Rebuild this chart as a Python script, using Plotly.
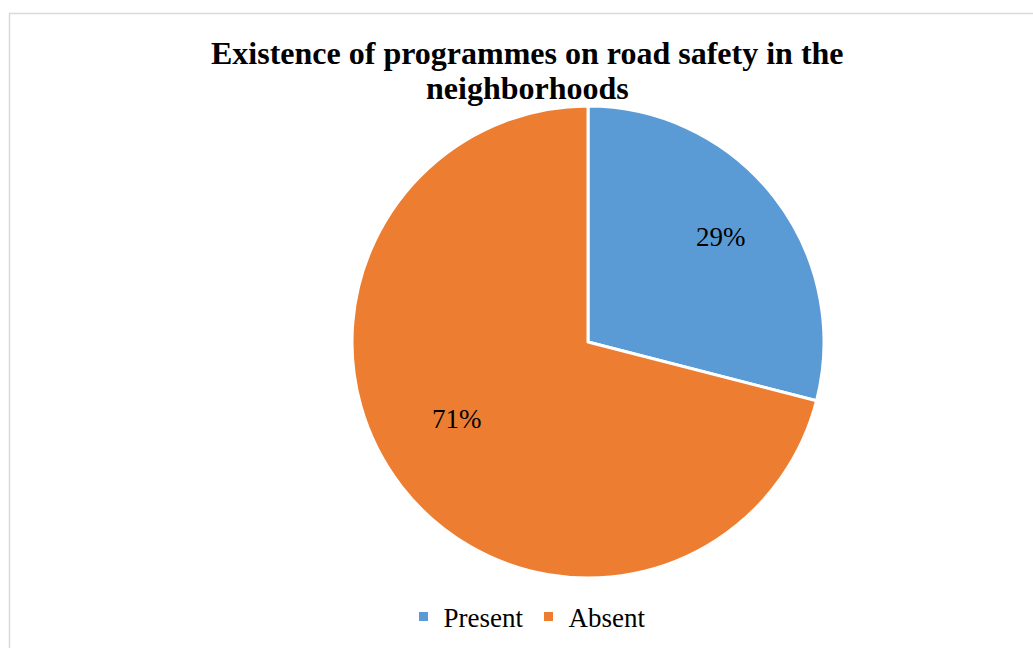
import math
import plotly.graph_objects as go

# Survey responses
categories = ["Present", "Absent"]
shares = [29, 71]
colors = ["#5B9BD5", "#ED7D31"]

W, H = 1033, 648
serif = "Liberation Serif, Times New Roman, serif"

# Pie geometry in pixels
cx, cy, R = 588, 342, 236
label_r = 0.7                       # label distance as a fraction of the radius
label_nudge = [(2, -4), (0, -24)]   # fine pixel offsets per label

fig = go.Figure(
    go.Pie(
        labels=categories,
        values=shares,
        sort=False,
        direction="clockwise",
        rotation=0,
        marker=dict(colors=colors, line=dict(color="white", width=3)),
        textinfo="none",
        domain=dict(x=[(cx - R) / W, (cx + R) / W], y=[1 - (cy + R) / H, 1 - (cy - R) / H]),
        hoverinfo="label+percent",
    )
)

# Percentage labels placed at each slice's mid angle
annotations = []
total = sum(shares)
start = 0.0
for val, (nx, ny) in zip(shares, label_nudge):
    mid = math.radians((start + val / 2) / total * 360)
    start += val
    px = cx + label_r * R * math.sin(mid) + nx
    py = cy - label_r * R * math.cos(mid) + ny
    annotations.append(
        dict(
            text=f"{val}%",
            x=px / W,
            y=1 - py / H,
            xref="paper",
            yref="paper",
            xanchor="center",
            yanchor="middle",
            showarrow=False,
            font=dict(family=serif, size=27, color="black"),
        )
    )

# Two-line bold title
for line, ypix in [("Existence of programmes on road safety in the", 53), ("neighborhoods", 88)]:
    annotations.append(
        dict(
            text=f"<b>{line}</b>",
            x=527 / W,
            y=1 - ypix / H,
            xref="paper",
            yref="paper",
            xanchor="center",
            yanchor="middle",
            showarrow=False,
            font=dict(family=serif, size=32, color="black"),
        )
    )

fig.update_layout(
    width=W,
    height=H,
    margin=dict(l=0, r=0, t=0, b=0),
    paper_bgcolor="white",
    plot_bgcolor="white",
    showlegend=True,
    legend=dict(
        orientation="h",
        x=527 / W,
        xanchor="center",
        y=1 - 617 / H,
        yanchor="middle",
        font=dict(family=serif, size=27, color="black"),
        itemwidth=30,
    ),
    annotations=annotations,
    shapes=[
        dict(
            type="rect",
            xref="paper",
            yref="paper",
            x0=9.5 / W,
            x1=1.2,
            y0=-0.2,
            y1=1 - 13.5 / H,
            line=dict(color="#D9D9D9", width=1.5),
            fillcolor="rgba(0,0,0,0)",
            layer="below",
        )
    ],
)

fig.write_html("out.html")
